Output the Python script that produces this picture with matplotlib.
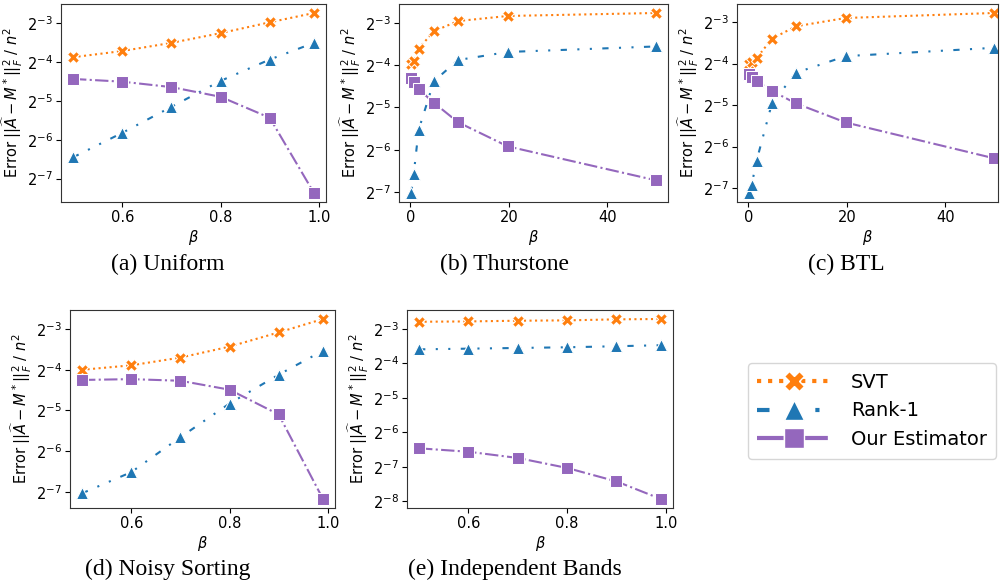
import matplotlib
matplotlib.use("Agg")
import matplotlib.pyplot as plt
from matplotlib.lines import Line2D
from matplotlib.ticker import MultipleLocator
import numpy as np

# ---------------- data (log2 of error) ----------------
beta_ab = [0.5, 0.6, 0.7, 0.8, 0.9, 0.99]
beta_bt = [0.2, 0.7, 1.7, 4.8, 9.7, 19.8, 49.8]

uni_svt  = [-3.87, -3.71, -3.50, -3.25, -2.97, -2.73]
uni_rank = [-6.45, -5.82, -5.15, -4.48, -3.93, -3.50]
uni_ours = [-4.43, -4.50, -4.64, -4.89, -5.43, -7.37]

thu_svt  = [-3.98, -3.90, -3.61, -3.20, -2.96, -2.84, -2.77]
thu_rank = [-7.02, -6.58, -5.53, -4.38, -3.88, -3.69, -3.56]
thu_ours = [-4.30, -4.41, -4.57, -4.89, -5.35, -5.92, -6.72]

btl_svt  = [-4.02, -3.97, -3.87, -3.40, -3.10, -2.90, -2.78]
btl_rank = [-7.12, -6.92, -6.34, -4.96, -4.22, -3.82, -3.62]
btl_ours = [-4.26, -4.32, -4.42, -4.66, -4.96, -5.42, -6.28]

ns_svt  = [-4.00, -3.89, -3.70, -3.43, -3.08, -2.75]
ns_rank = [-7.04, -6.52, -5.66, -4.83, -4.12, -3.53]
ns_ours = [-4.25, -4.23, -4.27, -4.49, -5.10, -7.18]

ib_svt  = [-2.79, -2.78, -2.76, -2.75, -2.72, -2.71]
ib_rank = [-3.59, -3.57, -3.55, -3.53, -3.50, -3.47]
ib_ours = [-6.46, -6.56, -6.74, -7.03, -7.42, -7.93]

captions = ["(a) Uniform", "(b) Thurstone", "(c) BTL",
            "(d) Noisy Sorting", "(e) Independent Bands"]
series_names = ["SVT", "Rank-1", "Our Estimator"]

# ---------------- styling ----------------
colors = ["tab:orange", "tab:blue", "tab:purple"]
markers = ["X", "^", "s"]
styles = [":", (0, (3, 5, 1, 5, 1, 5)), "-."]

W, H = 1000, 586
fig = plt.figure(figsize=(W / 100, H / 100), dpi=100)

def rect(x0, x1, y0, y1):
    return [x0 / W, 1 - y1 / H, (x1 - x0) / W, (y1 - y0) / H]

panels = [
    (rect(61, 326, 4, 202), beta_ab, [uni_svt, uni_rank, uni_ours], None, 0.2),
    (rect(399, 668, 4, 202), beta_bt, [thu_svt, thu_rank, thu_ours], None, 20),
    (rect(737, 998, 4, 202), beta_bt, [btl_svt, btl_rank, btl_ours], (-2.28, 50.7), 20),
    (rect(70, 335, 310, 508), beta_ab, [ns_svt, ns_rank, ns_ours], None, 0.2),
    (rect(407, 673, 310, 508), beta_ab, [ib_svt, ib_rank, ib_ours], None, 0.2),
]
cap_pos = [(168, 264), (505, 264), (846, 264), (168, 569), (515, 569)]

ylabel = r"Error $||\widehat{A}-M^*||_F^2\ /\ n^2$"

for (r, xs, ys_list, xl, step), cap, cp in zip(panels, captions, cap_pos):
    ax = fig.add_axes(r)
    for ys, c, m, ls in zip(ys_list, colors, markers, styles):
        ax.plot(xs, 2.0 ** np.array(ys), color=c, marker=m, linestyle=ls,
                lw=1.5, ms=8, mec="white", mew=0.75)
    ax.set_yscale("log", base=2)
    ax.xaxis.set_major_locator(MultipleLocator(step))
    if xl is not None:
        ax.set_xlim(*xl)
    ax.set_xlabel(r"$\beta$", fontsize=10.5, labelpad=2)
    ax.set_ylabel(ylabel, fontsize=10.5, labelpad=1)
    ax.tick_params(labelsize=10.5, pad=2.5)
    for s in ax.spines.values():
        s.set_color("#333333")
    fig.text(cp[0] / W, 1 - cp[1] / H, cap, ha="center", va="center",
             fontsize=17, family="Liberation Serif")

handles = [Line2D([], [], color=c, marker=m, linestyle=ls, lw=3, ms=14,
                  mec="white", mew=1.0)
           for c, m, ls in zip(colors, markers, styles)]
fig.legend(handles, series_names, loc="center",
           bbox_to_anchor=(872 / W, 1 - 411 / H), fontsize=14,
           handlelength=3.8, labelspacing=0.5, borderpad=0.5,
           handletextpad=1.0)

fig.savefig("out.png", dpi=100)
